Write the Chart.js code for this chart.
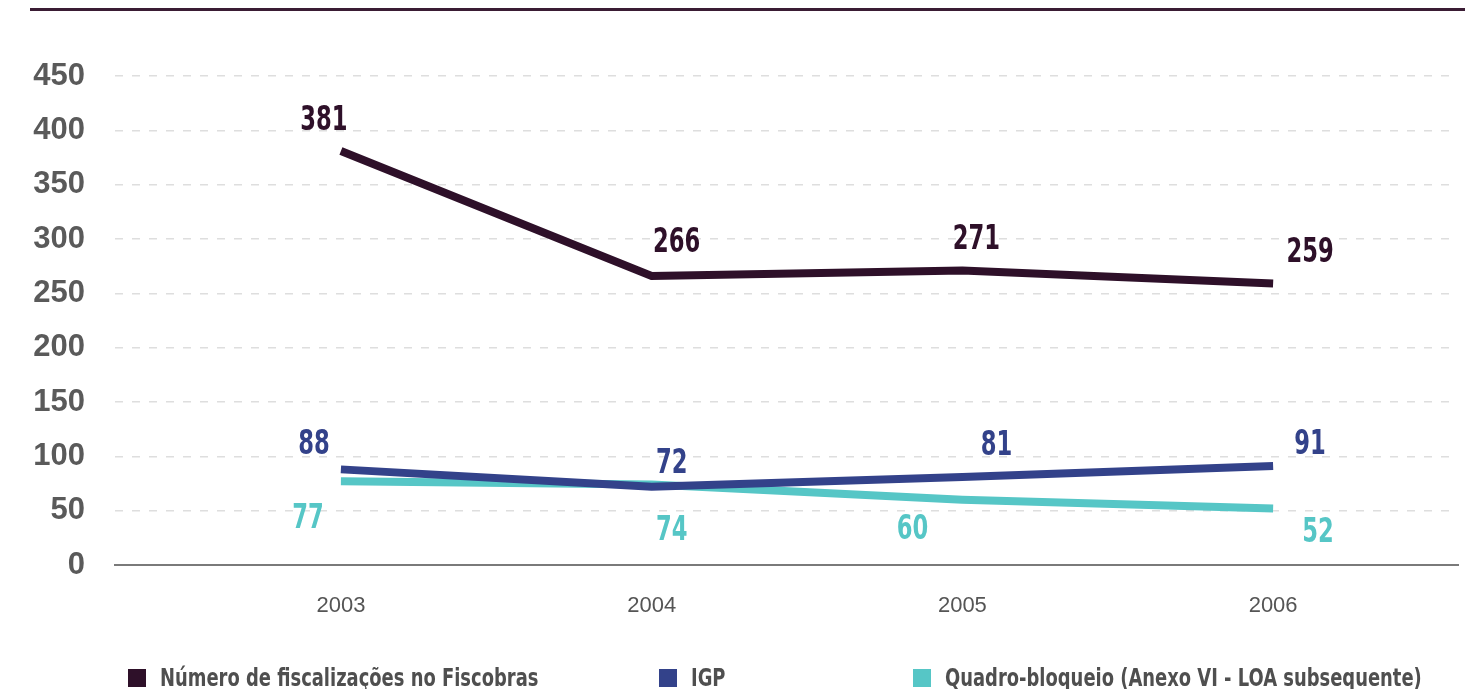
<!DOCTYPE html>
<html><head><meta charset="utf-8">
<script src="https://cdn.jsdelivr.net/npm/chart.js@4.4.1/dist/chart.umd.min.js"></script>
<style>html,body{margin:0;padding:0;background:#fff;} #wrap{width:1480px;height:689px;position:relative;overflow:hidden;}</style>
</head><body><div id="wrap"><canvas id="c" width="1480" height="689"></canvas></div>
<script>
const years = ['2003', '2004', '2005', '2006'];
const fiscalizacoes = [381, 266, 271, 259];
const igp = [88, 72, 81, 91];
const quadroBloqueio = [77, 74, 60, 52];
const seriesNames = ['Número de fiscalizações no Fiscobras', 'IGP', 'Quadro-bloqueio (Anexo VI - LOA subsequente)'];
const yMax = 450, yStep = 50;

const COLORS = ['#2e1029', '#33428a', '#56c6c6'];
const COND = "'DejaVu Sans Condensed', 'Liberation Sans', sans-serif";
const SANS = "'Liberation Sans', Arial, sans-serif";

function pts(arr){ return arr.map((v,i)=>({x:i, y:v})); }

// draw text horizontally condensed by factor k (text stays real text)
function condText(c, t, x, y, k){
  c.fillText(t, x, y, c.measureText(t).width * k);
}

const topRule = {
  id:'topRule',
  beforeDraw(chart){
    const c = chart.ctx; c.save();
    c.strokeStyle = '#3a1c34'; c.lineWidth = 3;
    c.beginPath(); c.moveTo(30, 9.5); c.lineTo(1465, 9.5); c.stroke();
    c.restore();
  }
};

const valueLabels = {
  id:'valueLabels',
  afterDatasetsDraw(chart){
    const c = chart.ctx; c.save();
    c.font = "bold 34px " + COND;
    c.textAlign = 'center'; c.textBaseline = 'middle';
    chart.data.datasets.forEach((ds, di)=>{
      const meta = chart.getDatasetMeta(di);
      c.fillStyle = ds.borderColor;
      meta.data.forEach((p, i)=>{
        const o = ds.labelOffsets[i];
        condText(c, String(ds.data[i].y), p.x + o[0], p.y + o[1] + 3, 0.74);
      });
    });
    c.restore();
  }
};

const legendRow = {
  id:'legendRow',
  afterDraw(chart){
    const c = chart.ctx; c.save();
    const xs = [128, 659, 913];
    c.font = "bold 24px " + COND;
    c.textBaseline = 'alphabetic'; c.textAlign = 'left';
    chart.data.datasets.forEach((ds, i)=>{
      c.fillStyle = ds.borderColor;
      c.fillRect(xs[i], 669, 18, 18);
      c.fillStyle = '#4f4f4f';
      condText(c, ds.label, xs[i] + 32, 686, 0.83);
    });
    c.restore();
  }
};

new Chart(document.getElementById('c'), {
  type:'line',
  data:{
    datasets:[
      {label:seriesNames[0], data:pts(fiscalizacoes), borderColor:COLORS[0], backgroundColor:COLORS[0],
       labelOffsets:[[-17,-33],[25,-36],[14,-33],[37,-33]]},
      {label:seriesNames[1], data:pts(igp), borderColor:COLORS[1], backgroundColor:COLORS[1],
       labelOffsets:[[-27,-27],[20,-26],[34,-34],[37,-24]]},
      {label:seriesNames[2], data:pts(quadroBloqueio), borderColor:COLORS[2], backgroundColor:COLORS[2],
       labelOffsets:[[-33,35],[20,44],[-50,27],[45,22]]}
    ]
  },
  options:{
    responsive:false, animation:false,
    layout:{padding:{top:76, right:22, bottom:64, left:0}},
    elements:{
      line:{borderWidth:8, tension:0, borderJoinStyle:'miter', borderCapStyle:'butt', fill:false},
      point:{radius:0, hoverRadius:0}
    },
    plugins:{legend:{display:false}, tooltip:{enabled:false}},
    scales:{
      x:{
        type:'linear', min:-0.727, max:3.595,
        afterBuildTicks(s){ s.ticks = years.map((_,i)=>({value:i})); },
        afterFit(s){ s.height = 60; },
        ticks:{callback:(v)=>years[v] ?? '', color:'#555', font:{family:SANS, size:22}, padding:28, maxRotation:0, autoSkip:false},
        grid:{display:false, drawTicks:false},
        border:{display:true, color:'#7a7a7a', width:2}
      },
      y:{
        min:0, max:yMax,
        afterFit(s){ s.width = 115; },
        ticks:{stepSize:yStep, color:'#5a5a5a', font:{family:SANS, size:31, weight:'bold'}, padding:30},
        grid:{drawTicks:false, lineWidth:1.5, color:(ctx)=> ctx.tick && ctx.tick.value === 0 ? 'rgba(0,0,0,0)' : '#dedede'},
        border:{display:false, dash:[8,9]}
      }
    }
  },
  plugins:[topRule, valueLabels, legendRow]
});
</script>
</body></html>
